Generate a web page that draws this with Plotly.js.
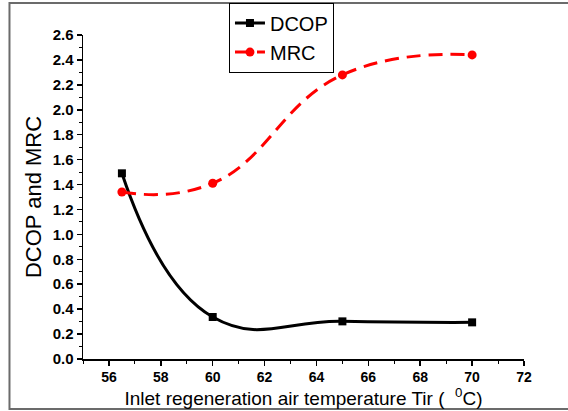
<!DOCTYPE html>
<html>
<head>
<meta charset="utf-8">
<script src="https://cdn.plot.ly/plotly-3.0.1.min.js"></script>
<style>html,body{margin:0;padding:0;background:#fff;}#chart{width:568px;height:411px;}</style>
</head>
<body>
<div id="chart"></div>
<script>
const tempX = [56.5, 60, 65, 70];
const dcop = [1.49, 0.337, 0.302, 0.294];
const mrc = [1.34, 1.41, 2.28, 2.44];
const seriesNames = ['DCOP', 'MRC'];
const xTickVals = [56, 58, 60, 62, 64, 66, 68, 70, 72];
const yTickVals = [0, 0.2, 0.4, 0.6, 0.8, 1.0, 1.2, 1.4, 1.6, 1.8, 2.0, 2.2, 2.4, 2.6];

const sans = '"Liberation Sans", Arial, sans-serif';

const traces = [
  {x: tempX, y: dcop, name: seriesNames[0], type: 'scatter', mode: 'lines+markers',
   line: {color: '#000000', width: 3, shape: 'spline', smoothing: 1.3},
   marker: {symbol: 'square', size: 8, color: '#000000'}},
  {x: tempX, y: mrc, name: seriesNames[1], type: 'scatter', mode: 'lines+markers',
   line: {color: '#ff0000', width: 3, dash: '14px,8px', shape: 'spline', smoothing: 1.3},
   marker: {symbol: 'circle', size: 9, color: '#ff0000'}}
];

const layout = {
  width: 568, height: 411,
  margin: {l: 83, r: 44, t: 35, b: 52, autoexpand: false},
  paper_bgcolor: '#ffffff', plot_bgcolor: '#ffffff',
  font: {family: sans, color: '#000'},
  showlegend: true,
  legend: {x: 0.331, y: 1.10, xanchor: 'left', yanchor: 'top',
    bordercolor: '#000', borderwidth: 1, bgcolor: '#fff',
    font: {family: sans, size: 20, color: '#000'}, tracegroupgap: 0, itemwidth: 30},
  xaxis: {range: [55, 72], tickmode: 'array', tickvals: xTickVals,
    ticktext: xTickVals.map(v => '<b>' + v + '</b>'),
    showgrid: false, zeroline: false,
    showline: true, linecolor: '#000', linewidth: 1.5,
    ticks: 'outside', ticklen: 5, tickwidth: 1.5, tickcolor: '#000',
    minor: {tickmode: 'linear', tick0: 55, dtick: 1, ticks: 'outside', ticklen: 3, tickwidth: 1, tickcolor: '#000', showgrid: false},
    tickfont: {family: sans, size: 14},
    title: {text: 'Inlet regeneration air temperature Tir (  <sup>0</sup>C)', standoff: 4,
      font: {family: sans, size: 19}}},
  yaxis: {range: [0, 2.6], tickmode: 'array', tickvals: yTickVals,
    ticktext: yTickVals.map(v => '<b>' + v.toFixed(1) + '</b>'),
    showgrid: false, zeroline: false,
    showline: true, linecolor: '#000', linewidth: 1.5,
    ticks: 'outside', ticklen: 5, tickwidth: 1.5, tickcolor: '#000',
    minor: {tickmode: 'linear', tick0: 0, dtick: 0.1, ticks: 'outside', ticklen: 3, tickwidth: 1, tickcolor: '#000', showgrid: false},
    tickfont: {family: sans, size: 15},
    title: {text: 'DCOP and MRC', standoff: 5, font: {family: sans, size: 22}}},
  shapes: [
    {type: 'rect', xref: 'paper', yref: 'paper', x0: -0.1667, x1: 1.3, y0: -0.1543, y1: 1.0988,
     line: {color: '#6b6b6b', width: 2}, fillcolor: 'rgba(0,0,0,0)', layer: 'below'}
  ]
};

Plotly.newPlot('chart', traces, layout, {displayModeBar: false, staticPlot: true});
</script>
</body>
</html>
